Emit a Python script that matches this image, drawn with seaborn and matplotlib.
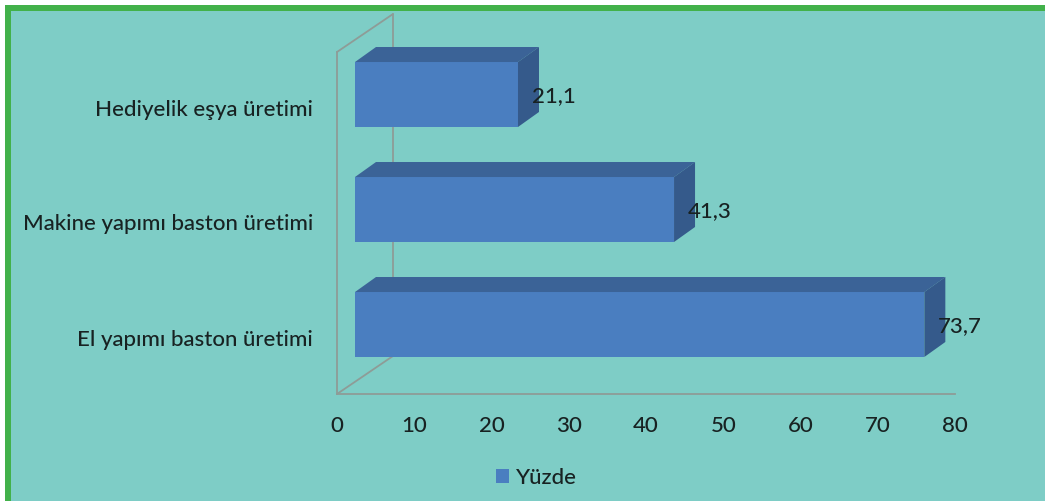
import matplotlib
matplotlib.use("Agg")
import matplotlib.pyplot as plt
from matplotlib.patches import Polygon, Rectangle
from matplotlib.lines import Line2D
from matplotlib.transforms import ScaledTranslation
import pandas as pd
import seaborn as sns

# --- data -------------------------------------------------------------
categories = ["Hediyelik eşya üretimi",
              "Makine yapımı baston üretimi",
              "El yapımı baston üretimi"]
values = [21.1, 41.3, 73.7]
value_labels = ["21,1", "41,3", "73,7"]
x_ticks = [0, 10, 20, 30, 40, 50, 60, 70, 80]
series_name = "Yüzde"

# --- style ------------------------------------------------------------
BG = "#7ecdc6"
FRONT = "#4a7ec0"
TOP = "#3b6397"
SIDE = "#355a8b"
FRAME = "#8e9c97"
TEXT = "#182222"
GREEN = "#42b14a"

sns.set_style("white")
plt.rcParams["font.family"] = ["Lato", "DejaVu Sans"]
plt.rcParams["font.weight"] = "medium"
FS = 16

W, H = 1045, 501
fig = plt.figure(figsize=(W / 100, H / 100), dpi=100, facecolor=BG)


def box(x0, y0, x1, y1):
    """Figure-fraction rectangle from pixel edges measured from the top-left."""
    return [x0 / W, 1 - y1 / H, (x1 - x0) / W, (y1 - y0) / H]


# --- floor and back wall of the 3-D frame ------------------------------
floor = fig.add_axes(box(337, 52, 955, 394), facecolor="none", zorder=0)
floor.set_xlim(0, 80)
floor.set_ylim(0, 1)
floor.set_xticks(x_ticks)
floor.set_xticklabels([str(t) for t in x_ticks], fontsize=FS, color=TEXT)
floor.set_yticks([])
floor.tick_params(axis="x", length=0, pad=16)
for side in ("top", "right"):
    floor.spines[side].set_visible(False)
for side in ("left", "bottom"):
    floor.spines[side].set_color(FRAME)
    floor.spines[side].set_linewidth(1.3)

# depth of the frame in axes fractions
fdx, fdy = 56 / 618, 38 / 342
for xs, ys in [((0, fdx), (0, fdy)),
               ((0, fdx), (1, 1 + fdy)),
               ((fdx, fdx), (fdy, 1 + fdy))]:
    floor.add_line(Line2D(xs, ys, transform=floor.transAxes, color=FRAME,
                          lw=1.3, clip_on=False))

# --- bars ---------------------------------------------------------------
ax = fig.add_axes(box(355, 37, 973, 382), facecolor="none", zorder=1)
df = pd.DataFrame({"kategori": categories, "deger": values})
bar_w = 0.565
sns.barplot(data=df, x="deger", y="kategori", orient="h", color=FRONT,
            saturation=1, width=bar_w, label=series_name, ax=ax,
            edgecolor="none")
handles, labels = ax.get_legend_handles_labels()
if ax.get_legend() is not None:
    ax.get_legend().remove()
ax.set_xlim(0, 80)
ax.set_ylim(2.5, -0.5)
ax.set_xlabel("")
ax.set_ylabel("")
ax.set_xticks([])
for s in ax.spines.values():
    s.set_visible(False)

# depth of each bar in data units
ddx, ddy = 21 / 7.725, 15 / 115
for patch in list(ax.patches):
    x0 = patch.get_x()
    v = patch.get_width()
    top = patch.get_y()
    bot = top + patch.get_height()
    top_face = [(x0, top), (x0 + v, top), (x0 + v + ddx, top - ddy), (x0 + ddx, top - ddy)]
    side_face = [(x0 + v, top), (x0 + v, bot), (x0 + v + ddx, bot - ddy), (x0 + v + ddx, top - ddy)]
    ax.add_patch(Polygon(top_face, closed=True, facecolor=TOP, edgecolor="none", zorder=3))
    ax.add_patch(Polygon(side_face, closed=True, facecolor=SIDE, edgecolor="none", zorder=3))

for i, (v, lab) in enumerate(zip(values, value_labels)):
    ax.annotate(lab, xy=(v, i), xytext=(10, -1), textcoords="offset points",
                ha="left", va="center", fontsize=FS, color=TEXT, zorder=5)

ax.tick_params(axis="y", length=0, pad=30, labelsize=FS, labelcolor=TEXT)
shift = ScaledTranslation(0, -13 / 100, fig.dpi_scale_trans)
for lbl in ax.get_yticklabels():
    lbl.set_transform(lbl.get_transform() + shift)

# --- legend -------------------------------------------------------------
fig.legend(handles, labels, loc="center", bbox_to_anchor=(536 / W, 1 - 478 / H),
           frameon=False, fontsize=FS, handlelength=0.6, handleheight=0.6,
           handletextpad=0.3, labelcolor=TEXT)

# --- page border ----------------------------------------------------------
for rx, ry, rw, rh, col in [
    (0, 0, 5 / W, 1, "white"),
    (0, 1 - 5 / H, 1, 5 / H, "white"),
    (5 / W, 0, 6 / W, 1 - 5 / H, GREEN),
    (5 / W, 1 - 11 / H, 1 - 5 / W, 6 / H, GREEN),
]:
    fig.add_artist(Rectangle((rx, ry), rw, rh, transform=fig.transFigure,
                             facecolor=col, edgecolor="none", zorder=10))

fig.savefig("out.png", dpi=100, facecolor=BG)
